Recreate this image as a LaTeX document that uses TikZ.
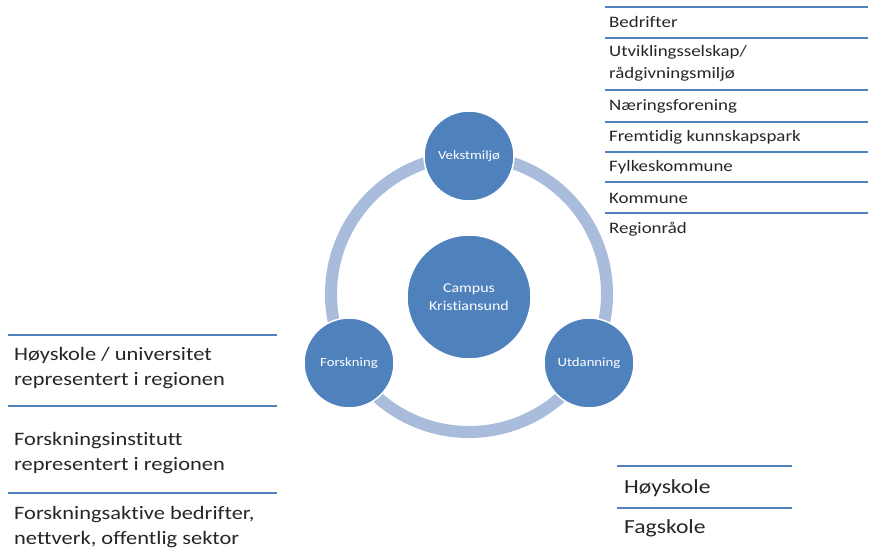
\documentclass[tikz,border=0pt]{standalone}
\usepackage{fontspec}
\setmainfont[FakeStretch=1.18, Ligatures=NoCommon]{Carlito}
\definecolor{hubblue}{HTML}{4F81BD}
\definecolor{ringblue}{HTML}{A9BCDC}
\definecolor{inktext}{HTML}{262626}
\tikzset{
  sep/.style={hubblue, line width=2.6pt},
  hub/.style={circle, fill=hubblue, draw=white, line width=1.5pt, text=white, align=center, inner sep=0pt, minimum size=90pt, font=\fontsize{12.5}{15}\selectfont},
  item/.style={anchor=west, align=left, inner sep=0pt, text=inktext},
}
\begin{document}
\begin{tikzpicture}[x=1pt,y=-1pt]
	\useasboundingbox (0,0) rectangle (869,551);
	\draw[ringblue, line width=12pt] (469,294) circle (138pt);
	\node[hub, minimum size=124pt, font=\fontsize{13.5}{18}\selectfont] (campus) at (469,297) {Campus\\Kristiansund};
	\node[hub] (vekst) at (469,156) {Vekstmiljø};
	\node[hub] (forsk) at (349,363) {Forskning};
	\node[hub] (utdan) at (589,363) {Utdanning};
	% right list
	\draw[sep] (605,7) -- (868,7);
	\draw[sep] (605,38) -- (868,38);
	\draw[sep] (605,90) -- (868,90);
	\draw[sep] (605,122) -- (868,122);
	\draw[sep] (605,152) -- (868,152);
	\draw[sep] (605,182) -- (868,182);
	\draw[sep] (605,213) -- (868,213);
	\begin{scope}[every node/.style={item, font=\fontsize{16}{22}\selectfont}]
	\node (bedr) at (609,22) {Bedrifter};
	\node (utvikl) at (609,63) {Utviklingsselskap/\\rådgivningsmiljø};
	\node (naering) at (609,106) {Næringsforening};
	\node (fremtid) at (609,137) {Fremtidig kunnskapspark};
	\node (fylke) at (609,167) {Fylkeskommune};
	\node (kommune) at (609,198) {Kommune};
	\node (region) at (609,229) {Regionråd};
	\end{scope}
	% left list
	\draw[sep] (8,335) -- (277,335);
	\draw[sep] (8,406) -- (277,406);
	\draw[sep] (8,493) -- (277,493);
	\begin{scope}[every node/.style={item, font=\fontsize{19}{25}\selectfont}]
	\node (hoyuni) at (14,368) {Høyskole / universitet\\representert i regionen};
	\node (instit) at (14,453) {Forskningsinstitutt\\representert i regionen};
	\node (aktive) at (14,527) {Forskningsaktive bedrifter,\\nettverk, offentlig sektor};
	\end{scope}
	% bottom right
	\draw[sep] (617,466) -- (792,466);
	\draw[sep] (617,508) -- (792,508);
	\node[item, font=\fontsize{20}{24}\selectfont] (hoysk) at (624,488) {Høyskole};
	\node[item, font=\fontsize{20}{24}\selectfont] (fagsk) at (624,528) {Fagskole};
\end{tikzpicture}
\end{document}
